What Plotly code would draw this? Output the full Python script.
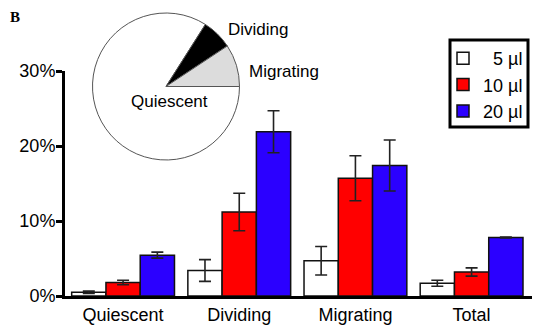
import plotly.graph_objects as go

categories = ["Quiescent", "Dividing", "Migrating", "Total"]
legend_labels = ["\u00a0\u00a05 µl", "10 µl", "20 µl"]
values_5 = [0.5, 3.4, 4.7, 1.7]
err_5 = [0.15, 1.45, 1.9, 0.4]
values_10 = [1.8, 11.2, 15.7, 3.2]
err_10 = [0.3, 2.5, 3.0, 0.55]
values_20 = [5.45, 21.9, 17.4, 7.8]
err_20 = [0.4, 2.8, 3.4, 0.06]
colors = ["#ffffff", "#ff0000", "#2b00ff"]

pie_labels = ["Quiescent", "Dividing", "Migrating"]
pie_values = [84.0, 6.7, 9.3]
pie_colors = ["#ffffff", "#000000", "#dcdcdc"]

FONT = "Arial, Liberation Sans, sans-serif"

# plot-area geometry in pixels (used to place paper-referenced items)
L, R, T, B = 65, 18, 10, 33
W, H = 550 - L - R, 329 - T - B


def px_x(px):
    return (px - L) / W


def px_y(py):
    return (329 - B - py) / H


fig = go.Figure()
for lab, vals, errs, col in zip(legend_labels,
                                [values_5, values_10, values_20],
                                [err_5, err_10, err_20], colors):
    fig.add_trace(go.Bar(
        x=categories, y=vals, name=lab,
        marker=dict(color=col, line=dict(color="#111111", width=1.5)),
        error_y=dict(type="data", array=errs, visible=True,
                     color="#222222", thickness=1.6, width=6),
    ))

fig.add_trace(go.Pie(
    labels=pie_labels, values=pie_values, sort=False,
    direction="clockwise", rotation=90,
    marker=dict(colors=pie_colors, line=dict(color="#555555", width=1)),
    textinfo="none", hoverinfo="label+percent", showlegend=False,
    domain=dict(x=[px_x(92), px_x(240)], y=[px_y(160), px_y(13)]),
))

ann = [dict(text="<b>B</b>", x=px_x(15), y=px_y(17), xref="paper", yref="paper",
            xanchor="center", yanchor="middle", showarrow=False,
            font=dict(family="Liberation Serif, Times New Roman, serif", size=15))]
for txt, px, py in [("Dividing", 258, 30), ("Migrating", 284, 71), ("Quiescent", 169, 101)]:
    ann.append(dict(text=txt, x=px_x(px), y=px_y(py), xref="paper", yref="paper",
                    xanchor="center", yanchor="middle",
                    showarrow=False, font=dict(size=17)))

fig.update_layout(
    width=550, height=329,
    margin=dict(l=L, r=R, t=T, b=B, autoexpand=False),
    paper_bgcolor="white", plot_bgcolor="white",
    barmode="group", bargap=0.115, bargroupgap=0,
    font=dict(family=FONT, size=18, color="black"),
    showlegend=True,
    legend=dict(x=px_x(443), y=px_y(40), xanchor="left", yanchor="top",
                borderwidth=0, bgcolor="rgba(0,0,0,0)",
                font=dict(size=18), tracegroupgap=0),
    xaxis=dict(showline=True, linecolor="black", linewidth=3,
               ticks="", range=[-0.5, 3.52], showgrid=False,
               automargin=False, tickfont=dict(size=18)),
    yaxis=dict(domain=[0, px_y(71)], range=[0, 30], dtick=10,
               ticksuffix="%", showline=True, linecolor="black",
               linewidth=3, ticks="outside", ticklen=6, tickwidth=2.5,
               tickcolor="black", showgrid=False, zeroline=False,
               ticklabelstandoff=-3,
               automargin=False, tickfont=dict(size=18)),
    shapes=[dict(type="rect", xref="paper", yref="paper",
                 x0=px_x(450), x1=px_x(528), y0=px_y(127), y1=px_y(40),
                 line=dict(color="black", width=3), fillcolor="rgba(0,0,0,0)",
                 layer="above")],
    annotations=ann,
)

fig.write_html("out.html", config={"displayModeBar": False})
